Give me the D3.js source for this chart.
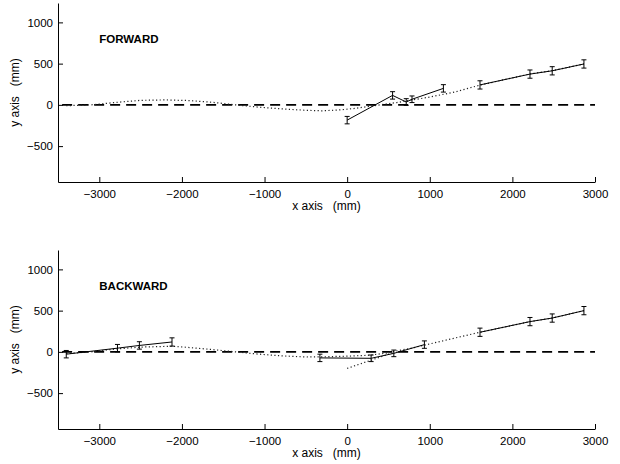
<!DOCTYPE html>
<html>
<head>
<meta charset="utf-8">
<script src="https://cdn.jsdelivr.net/npm/d3@7"></script>
<style>
  body { margin: 0; background: #fff; }
  text { font-family: "Liberation Sans", Arial, Helvetica, sans-serif; }
</style>
</head>
<body>
<div id="chart"></div>
<script>
// Two stacked panels: FORWARD / BACKWARD, y offset (mm) vs x position (mm)

const xTicks = [-3000, -2000, -1000, 0, 1000, 2000, 3000];
const yTicks = [-500, 0, 500, 1000];

// reference line y = 0
const zeroLine = [[-3450, 0], [3000, 0]];

// measured points with error bars: [x, y, err]
const forwardSolid1 = [[0, -185, 45], [550, 115, 45], [715, 35, 40], [785, 68, 40], [1165, 200, 45]];
const forwardSolid2 = [[1608, 242, 50], [2213, 373, 50], [2482, 413, 50], [2866, 496, 50]];

const backwardSolid1 = [[-3400, -28, 45], [-2780, 45, 45], [-2515, 78, 45], [-2120, 120, 50]];
const backwardSolid2 = [[-330, -73, 45], [290, -78, 40], [565, -18, 40], [935, 88, 45]];
const backwardSolid3 = [[1608, 238, 50], [2213, 367, 50], [2482, 410, 50], [2866, 500, 50]];

// dotted model curves
const forwardDotted = [[-3400, -10], [-3100, 0], [-2800, 30], [-2500, 55], [-2200, 60], [-1900, 52],
  [-1600, 28], [-1350, 0], [-1100, -25], [-800, -48], [-500, -66], [-300, -72], [-100, -62],
  [100, -42], [300, -14], [600, 28], [1000, 95], [1300, 155], [1608, 240], [2213, 375],
  [2482, 415], [2866, 496]];
const backwardDotted = [[-3400, -20], [-3100, 0], [-2800, 35], [-2500, 58], [-2120, 68], [-1900, 52],
  [-1600, 25], [-1350, 0], [-1100, -25], [-800, -48], [-500, -62], [-300, -60], [0, -52],
  [250, -42], [450, -18], [568, 5], [800, 50], [1100, 120], [1608, 238], [2213, 367],
  [2482, 410], [2866, 500]];
const backwardDotted2 = [[0, -200], [568, -5]];

const width = 620, height = 464;
const panelH = 179;

const svg = d3.select("#chart").append("svg")
  .attr("width", width)
  .attr("height", height);

const x = d3.scaleLinear().domain([-3500, 3000]).range([58, 595]);
const y = d3.scaleLinear().domain([-935, 1235]).range([panelH, 0]);

const line = d3.line().x(d => x(d[0])).y(d => y(d[1]));
const fmt = d3.format("d");

function drawPanel(top, title, solids, dotted) {
  const g = svg.append("g").attr("transform", `translate(0,${top})`);

  // axes
  const xa = g.append("g")
    .attr("transform", `translate(0,${panelH})`)
    .call(d3.axisBottom(x).tickValues(xTicks).tickFormat(fmt).tickSize(-5).tickSizeOuter(0).tickPadding(8));
  const ya = g.append("g")
    .attr("transform", `translate(${x.range()[0]},0)`)
    .call(d3.axisLeft(y).tickValues(yTicks).tickFormat(fmt).tickSize(-5).tickSizeOuter(0).tickPadding(5));
  [xa, ya].forEach(a => {
    a.attr("font-family", null).attr("font-size", null);
    a.selectAll("text").style("font-size", "11.5px").attr("fill", "#000");
    a.selectAll("path, line").attr("stroke", "#000");
  });

  // dashed zero line
  g.append("path")
    .attr("d", line(zeroLine))
    .attr("fill", "none")
    .attr("stroke", "#000")
    .attr("stroke-width", 1.8)
    .attr("stroke-dasharray", "10,6");

  // dotted curves
  dotted.forEach(ds => {
    g.append("path")
      .attr("d", line(ds))
      .attr("fill", "none")
      .attr("stroke", "#222")
      .attr("stroke-width", 1.2)
      .attr("stroke-dasharray", "1.2,2.4");
  });

  // solid segments with error bars
  solids.forEach(s => {
    g.append("path")
      .attr("d", line(s))
      .attr("fill", "none")
      .attr("stroke", "#000")
      .attr("stroke-width", 1);

    const eb = g.append("g").selectAll("g").data(s).join("g").attr("stroke", "#000");
    eb.append("line")
      .attr("x1", d => x(d[0])).attr("x2", d => x(d[0]))
      .attr("y1", d => y(d[1] - d[2])).attr("y2", d => y(d[1] + d[2]));
    eb.append("line")
      .attr("x1", d => x(d[0]) - 2.5).attr("x2", d => x(d[0]) + 2.5)
      .attr("y1", d => y(d[1] - d[2])).attr("y2", d => y(d[1] - d[2]));
    eb.append("line")
      .attr("x1", d => x(d[0]) - 2.5).attr("x2", d => x(d[0]) + 2.5)
      .attr("y1", d => y(d[1] + d[2])).attr("y2", d => y(d[1] + d[2]));
  });

  // title inside the axes
  g.append("text")
    .attr("x", x(-3000))
    .attr("y", y(800))
    .attr("dy", "0.35em")
    .style("font-size", "11.5px")
    .style("font-weight", "bold")
    .text(title);

  // axis labels
  g.append("text")
    .attr("x", (x.range()[0] + x.range()[1]) / 2)
    .attr("y", panelH + 24)
    .attr("dy", "0.35em")
    .attr("text-anchor", "middle")
    .style("font-size", "12px")
    .style("white-space", "pre")
    .text("x axis   (mm)");

  g.append("text")
    .attr("transform", `translate(15,${panelH / 2}) rotate(-90)`)
    .attr("dy", "0.35em")
    .attr("text-anchor", "middle")
    .style("font-size", "12px")
    .style("white-space", "pre")
    .text("y axis   (mm)");
}

drawPanel(3, "FORWARD", [forwardSolid1, forwardSolid2], [forwardDotted]);
drawPanel(250, "BACKWARD", [backwardSolid1, backwardSolid2, backwardSolid3], [backwardDotted, backwardDotted2]);
</script>
</body>
</html>
